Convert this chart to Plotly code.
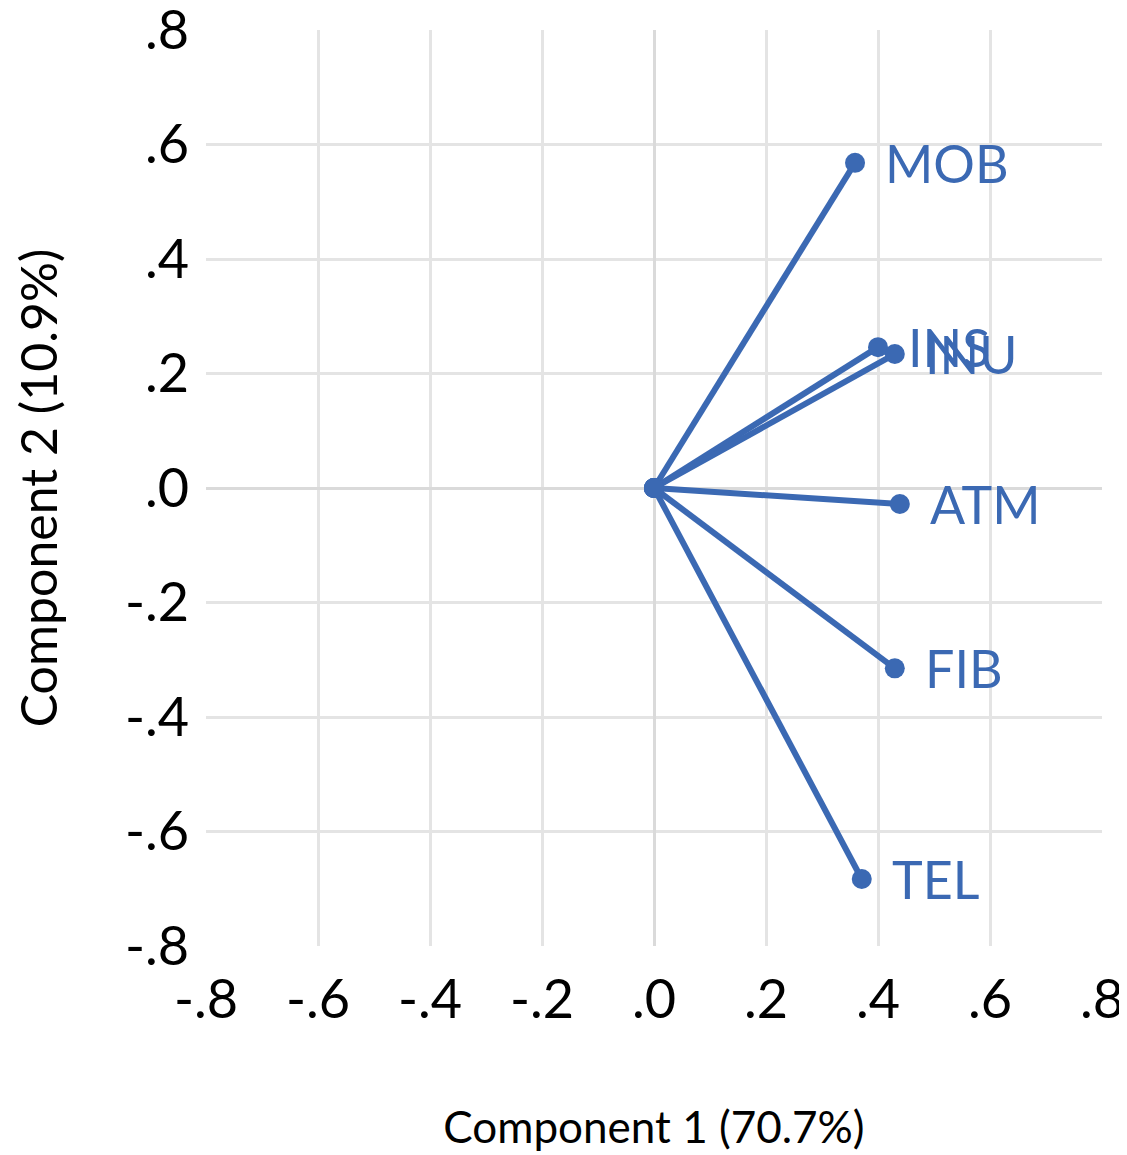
import plotly.graph_objects as go

# loadings
variables = ["MOB", "INS", "INU", "ATM", "FIB", "TEL"]
comp1 = [0.359, 0.400, 0.430, 0.439, 0.430, 0.371]
comp2 = [0.568, 0.246, 0.234, -0.028, -0.315, -0.683]

tick_vals = [-0.8, -0.6, -0.4, -0.2, 0.0, 0.2, 0.4, 0.6, 0.8]
tick_text = ["-.8", "-.6", "-.4", "-.2", ".0", ".2", ".4", ".6", ".8"]

blue = "#3b69b3"
font = "Lato, 'Open Sans', sans-serif"

fig = go.Figure()

for name, x, y in zip(variables, comp1, comp2):
    fig.add_trace(go.Scatter(
        x=[0, x], y=[0, y],
        mode="lines+markers",
        line=dict(color=blue, width=6),
        marker=dict(color=blue, size=20),
        showlegend=False,
        hoverinfo="skip",
    ))
    fig.add_annotation(
        x=x, y=y, text=name,
        showarrow=False, xanchor="left", yanchor="middle",
        xshift=28,
        font=dict(family=font, size=52, color=blue),
    )

axis_common = dict(
    range=[-0.8, 0.8],
    tickvals=tick_vals,
    ticktext=tick_text,
    showgrid=True,
    gridcolor="#e4e4e4",
    gridwidth=3,
    zeroline=True,
    zerolinecolor="#dadada",
    zerolinewidth=3,
    showline=False,
    ticks="",
    automargin=False,
    ticklabeloverflow="allow",
    tickfont=dict(family=font, size=54, color="black"),
)

fig.update_xaxes(
    **axis_common,
    ticklabelstandoff=17,
    title=dict(text="Component 1 (70.7%)", font=dict(family=font, size=44, color="black"), standoff=83),
)
fig.update_yaxes(
    **axis_common,
    ticklabelstandoff=16,
    title=dict(text="Component 2 (10.9%)", font=dict(family=font, size=50, color="black"), standoff=95),
)

# page body adds ~8px offset; margins compensate for it
fig.update_layout(
    width=1127, height=1155,
    margin=dict(l=198, r=33, t=22, b=217),
    plot_bgcolor="white",
    paper_bgcolor="white",
)

fig.write_html("out.html")
